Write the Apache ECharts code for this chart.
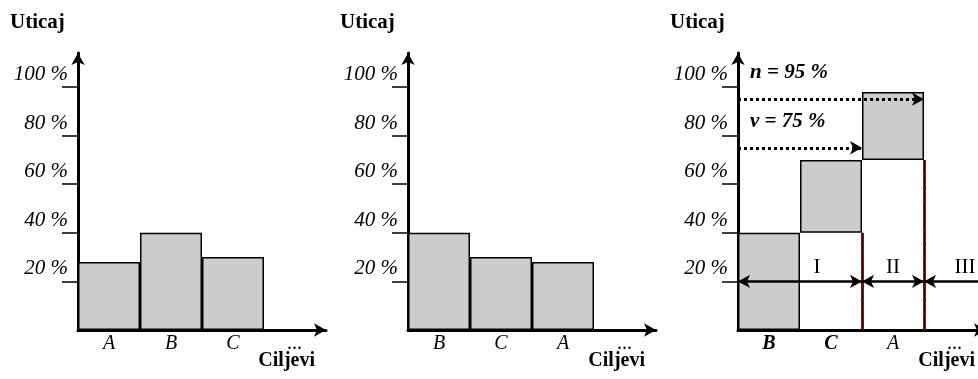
<!DOCTYPE html>
<html><head><meta charset="utf-8">
<script src="https://cdn.jsdelivr.net/npm/echarts@6/dist/echarts.min.js"></script>
<style>html,body{margin:0;padding:0;background:#fff;overflow:hidden}#c{width:1000px;height:379px}</style>
</head><body><div id="c"></div>
<script>
const categories1 = ['A', 'B', 'C', '...'];
const values1 = [28, 40, 30];
const categories2 = ['B', 'C', 'A', '...'];
const values2 = [40, 30, 28];
const categories3 = ['B', 'C', 'A', '...'];
const values3 = [40, 30, 28];
const boldCategories3 = ['B', 'C'];
const yTicks = [20, 40, 60, 80, 100];
const nLevel = 95;
const vLevel = 75;
const groupLabels = ['I', 'II', 'III'];
const groupBounds = [0, 2, 3, 4];
const groupLevel = 20;

const SERIF = '"Liberation Serif","Times New Roman",serif';
const W = 1000;
const lefts = [78, 408, 738];
const groupLabelShift = [34, 0, 20];
const cum = [];
values3.reduce((s, v, i) => { cum[i] = s; return s + v; }, 0);

const grids = lefts.map(l => ({ left: l, top: 53, width: 248, height: 277 }));
const cats = [categories1, categories2, categories3];

const xAxes = cats.map((c, i) => ({
  type: 'category', gridIndex: i, data: c,
  axisLine: { show: true, lineStyle: { color: '#000', width: 3 }, symbol: ['none', 'arrow'], symbolSize: [10, 12] },
  axisTick: { show: false },
  axisLabel: {
    margin: 4, color: '#000', fontFamily: SERIF, fontSize: 20, fontStyle: 'italic',
    formatter: i === 2 ? (v => boldCategories3.includes(v) ? '{b|' + v + '}' : v) : undefined,
    rich: { b: { fontFamily: SERIF, fontSize: 20, fontStyle: 'italic', fontWeight: 'bold', color: '#000' } }
  }
}));
xAxes.push({ type: 'value', gridIndex: 2, min: 0, max: 4, show: false });

const yAxes = [0, 1, 2].map(i => ({
  type: 'value', gridIndex: i, min: 0, max: 114,
  splitLine: { show: false },
  axisLine: { show: true, lineStyle: { color: '#000', width: 3 }, symbol: ['none', 'arrow'], symbolSize: [10, 12] },
  axisTick: { show: true, customValues: yTicks, length: 16, lineStyle: { color: '#000', width: 1.5 } },
  axisLabel: {
    customValues: yTicks, formatter: '{value} %', margin: 10, color: '#000',
    fontFamily: SERIF, fontSize: 21, fontStyle: 'italic', verticalAlign: 'bottom', padding: [0, 0, 2, 0]
  }
}));

const barStyle = { color: '#cccccc', borderColor: '#000', borderWidth: 1.5 };
const barCommon = { barCategoryGap: '0%', silent: true };
const series = [
  { type: 'bar', xAxisIndex: 0, yAxisIndex: 0, data: values1, itemStyle: barStyle, ...barCommon },
  { type: 'bar', xAxisIndex: 1, yAxisIndex: 1, data: values2, itemStyle: barStyle, ...barCommon },
  { type: 'bar', xAxisIndex: 2, yAxisIndex: 2, data: cum, stack: 'p', itemStyle: { color: 'transparent' }, ...barCommon },
  { type: 'bar', xAxisIndex: 2, yAxisIndex: 2, data: values3, stack: 'p', itemStyle: barStyle, ...barCommon }
];

const txt = { fontFamily: SERIF, color: '#000' };
const lvlLabel = (t) => ({ show: true, formatter: t, position: 'insideStartTop', distance: [12, 16], ...txt, fontSize: 21, fontWeight: 'bold', fontStyle: 'italic' });
const mlData = [
  [{ coord: [0, nLevel], symbol: 'none', lineStyle: { type: 'dotted', width: 3, color: '#000' }, label: lvlLabel('n = ' + nLevel + ' %') }, { coord: [3, nLevel], symbol: 'arrow', symbolSize: [10, 12] }],
  [{ coord: [0, vLevel], symbol: 'none', lineStyle: { type: 'dotted', width: 3, color: '#000' }, label: lvlLabel('v = ' + vLevel + ' %') }, { coord: [2, vLevel], symbol: 'arrow', symbolSize: [10, 12] }],
  [{ coord: [2, 0], symbol: 'none', lineStyle: { type: 'solid', width: 2.5, color: '#000' } }, { coord: [2, cum[1]], symbol: 'none' }],
  [{ coord: [3, 0], symbol: 'none', lineStyle: { type: 'solid', width: 2.5, color: '#000' } }, { coord: [3, cum[2]], symbol: 'none' }],
  [{ coord: [2, 0], symbol: 'none', lineStyle: { type: [4, 3], width: 2.5, color: '#8b0000' } }, { coord: [2, cum[1]], symbol: 'none' }],
  [{ coord: [3, 0], symbol: 'none', lineStyle: { type: [4, 3], width: 2.5, color: '#8b0000' } }, { coord: [3, cum[2]], symbol: 'none' }]
];
groupLabels.forEach((g, i) => {
  mlData.push([
    { coord: [groupBounds[i], groupLevel], symbol: 'arrow', symbolSize: [10, 12], lineStyle: { type: 'solid', width: 2.5, color: '#000' },
      label: { show: true, formatter: g, position: 'middle', distance: 3, padding: [0, 0, 0, groupLabelShift[i]], ...txt, fontSize: 21 } },
    { coord: [groupBounds[i + 1], groupLevel], symbol: i < 2 ? 'arrow' : 'none', symbolSize: [10, 12] }
  ]);
});
series.push({
  type: 'line', xAxisIndex: 3, yAxisIndex: 2, data: [], silent: true,
  markLine: { silent: true, animation: false, data: mlData, label: { show: false } }
});

const titles = [];
lefts.forEach((l, i) => {
  titles.push({ text: 'Uticaj', left: 10 + i * 330, top: 12, padding: 0, textStyle: { ...txt, fontSize: 21, fontWeight: 'bold' } });
  titles.push({ text: 'Ciljevi', right: W - (315 + i * 330), top: 351, padding: 0, textStyle: { ...txt, fontSize: 20, fontWeight: 'bold' } });
});

const chart = echarts.init(document.getElementById('c'));
chart.setOption({ animation: false, title: titles, grid: grids, xAxis: xAxes, yAxis: yAxes, series });
</script></body></html>
